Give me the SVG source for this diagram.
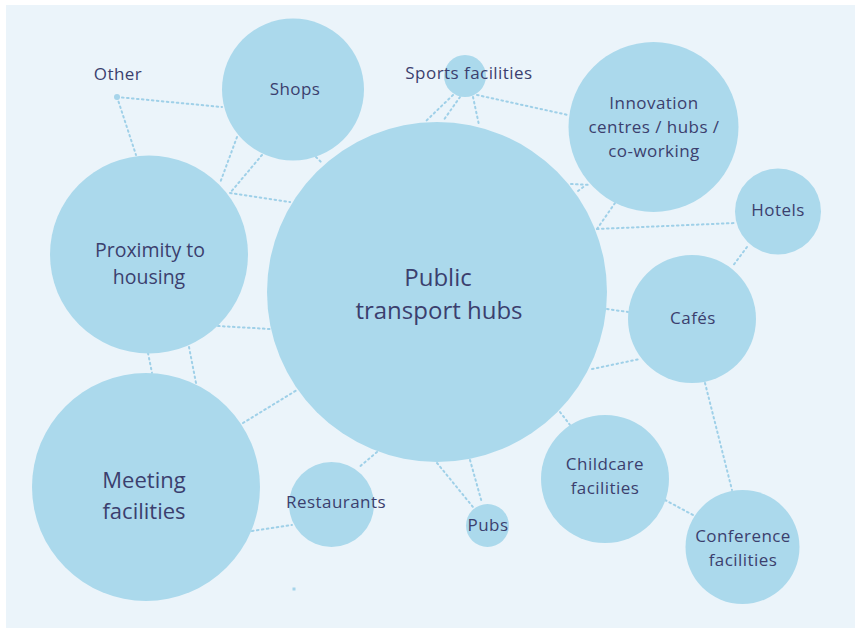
<svg xmlns="http://www.w3.org/2000/svg" width="855" height="628" viewBox="0 0 855 628">
  <style>
    .bubble { fill: #ABD9EC; }
    .link { stroke: #9FD0E8; stroke-width: 2; stroke-dasharray: 1.6 3.4; stroke-linecap: round; fill: none; }
    .lbl { font-family: "Open Sans", "Liberation Sans", sans-serif; fill: #3B3F6E; text-anchor: middle; }
    .s15 { font-size: 17px; letter-spacing: 0.45px; }
    .s19 { font-size: 19.5px; }
    .s22 { font-size: 22px; }
    .s24 { font-size: 24px; }
  </style>

  <!-- page background and panel -->
  <rect x="0" y="0" width="855" height="628" fill="#FFFFFF"/>
  <rect x="6" y="5" width="849" height="623" fill="#EBF4FA"/>

  <!-- dotted connectors -->
  <g id="connectors">
    <line class="link" x1="117" y1="97" x2="222" y2="107"/>
    <line class="link" x1="117" y1="97" x2="136" y2="155"/>
    <line class="link" x1="237" y1="137" x2="220" y2="183"/>
    <line class="link" x1="262" y1="155" x2="230" y2="193"/>
    <line class="link" x1="230" y1="193" x2="290" y2="202"/>
    <line class="link" x1="316" y1="157" x2="322" y2="163"/>
    <line class="link" x1="453" y1="95" x2="426" y2="121"/>
    <line class="link" x1="460" y1="97" x2="443" y2="121"/>
    <line class="link" x1="473" y1="97" x2="479" y2="125"/>
    <line class="link" x1="477" y1="95" x2="568" y2="115"/>
    <line class="link" x1="571" y1="184" x2="590" y2="185"/>
    <line class="link" x1="578" y1="191" x2="586" y2="185"/>
    <line class="link" x1="615" y1="203" x2="597" y2="229"/>
    <line class="link" x1="597" y1="229" x2="735" y2="223"/>
    <line class="link" x1="747" y1="247" x2="732" y2="267"/>
    <line class="link" x1="607" y1="309" x2="628" y2="312"/>
    <line class="link" x1="592" y1="369" x2="640" y2="359"/>
    <line class="link" x1="705" y1="383" x2="732" y2="490"/>
    <line class="link" x1="560" y1="412" x2="570" y2="425"/>
    <line class="link" x1="665" y1="500" x2="693" y2="515"/>
    <line class="link" x1="437" y1="463" x2="473" y2="507"/>
    <line class="link" x1="470" y1="460" x2="482" y2="503"/>
    <line class="link" x1="218" y1="326" x2="270" y2="329"/>
    <line class="link" x1="148" y1="353" x2="152" y2="373"/>
    <line class="link" x1="189" y1="347" x2="196" y2="383"/>
    <line class="link" x1="243" y1="423" x2="297" y2="390"/>
    <line class="link" x1="377" y1="452" x2="358" y2="468"/>
    <line class="link" x1="252" y1="531" x2="292" y2="525"/>
  </g>

  <g id="other">
    <circle cx="117" cy="97" r="3" fill="#A6D4EA"/>
    <text class="lbl s15" x="118" y="80">Other</text>
  </g>

  <g id="shops">
    <circle class="bubble" cx="293" cy="89.5" r="71"/>
    <text class="lbl s15" x="295" y="95">Shops</text>
  </g>

  <g id="sports-facilities">
    <circle class="bubble" cx="465" cy="76" r="21"/>
    <text class="lbl s15" x="469" y="79">Sports facilities</text>
  </g>

  <g id="innovation-centres">
    <circle class="bubble" cx="653.5" cy="127" r="85"/>
    <text class="lbl s15" x="654" y="109">Innovation</text>
    <text class="lbl s15" x="654" y="133">centres / hubs /</text>
    <text class="lbl s15" x="654" y="157">co-working</text>
  </g>

  <g id="hotels">
    <circle class="bubble" cx="778" cy="211.5" r="43"/>
    <text class="lbl s15" x="778" y="216">Hotels</text>
  </g>

  <g id="public-transport-hubs">
    <circle class="bubble" cx="437" cy="292" r="170"/>
    <text class="lbl s24" x="438" y="286">Public</text>
    <text class="lbl s24" x="439" y="319">transport hubs</text>
  </g>

  <g id="proximity-to-housing">
    <circle class="bubble" cx="149" cy="254.5" r="99"/>
    <text class="lbl s19" x="150" y="257">Proximity to</text>
    <text class="lbl s19" x="149" y="284">housing</text>
  </g>

  <g id="cafes">
    <circle class="bubble" cx="692" cy="319" r="64"/>
    <text class="lbl s15" x="693" y="324">Cafés</text>
  </g>

  <g id="meeting-facilities">
    <circle class="bubble" cx="146" cy="487" r="114"/>
    <text class="lbl s22" x="144" y="488">Meeting</text>
    <text class="lbl s22" x="144" y="519">facilities</text>
  </g>

  <g id="restaurants">
    <circle class="bubble" cx="331.5" cy="504.5" r="42.5"/>
    <text class="lbl s15" x="336" y="508">Restaurants</text>
  </g>

  <g id="pubs">
    <circle class="bubble" cx="487.5" cy="525.5" r="21.5"/>
    <text class="lbl s15" x="488" y="531">Pubs</text>
  </g>

  <g id="childcare-facilities">
    <circle class="bubble" cx="605" cy="479" r="64"/>
    <text class="lbl s15" x="605" y="470">Childcare</text>
    <text class="lbl s15" x="605" y="494">facilities</text>
  </g>

  <g id="conference-facilities">
    <circle class="bubble" cx="742.5" cy="547" r="57"/>
    <text class="lbl s15" x="743" y="542">Conference</text>
    <text class="lbl s15" x="743" y="566">facilities</text>
  </g>

  <g id="marker-dot">
    <rect x="292.5" y="587.5" width="3" height="3" fill="#A6D4EA"/>
  </g>
</svg>
